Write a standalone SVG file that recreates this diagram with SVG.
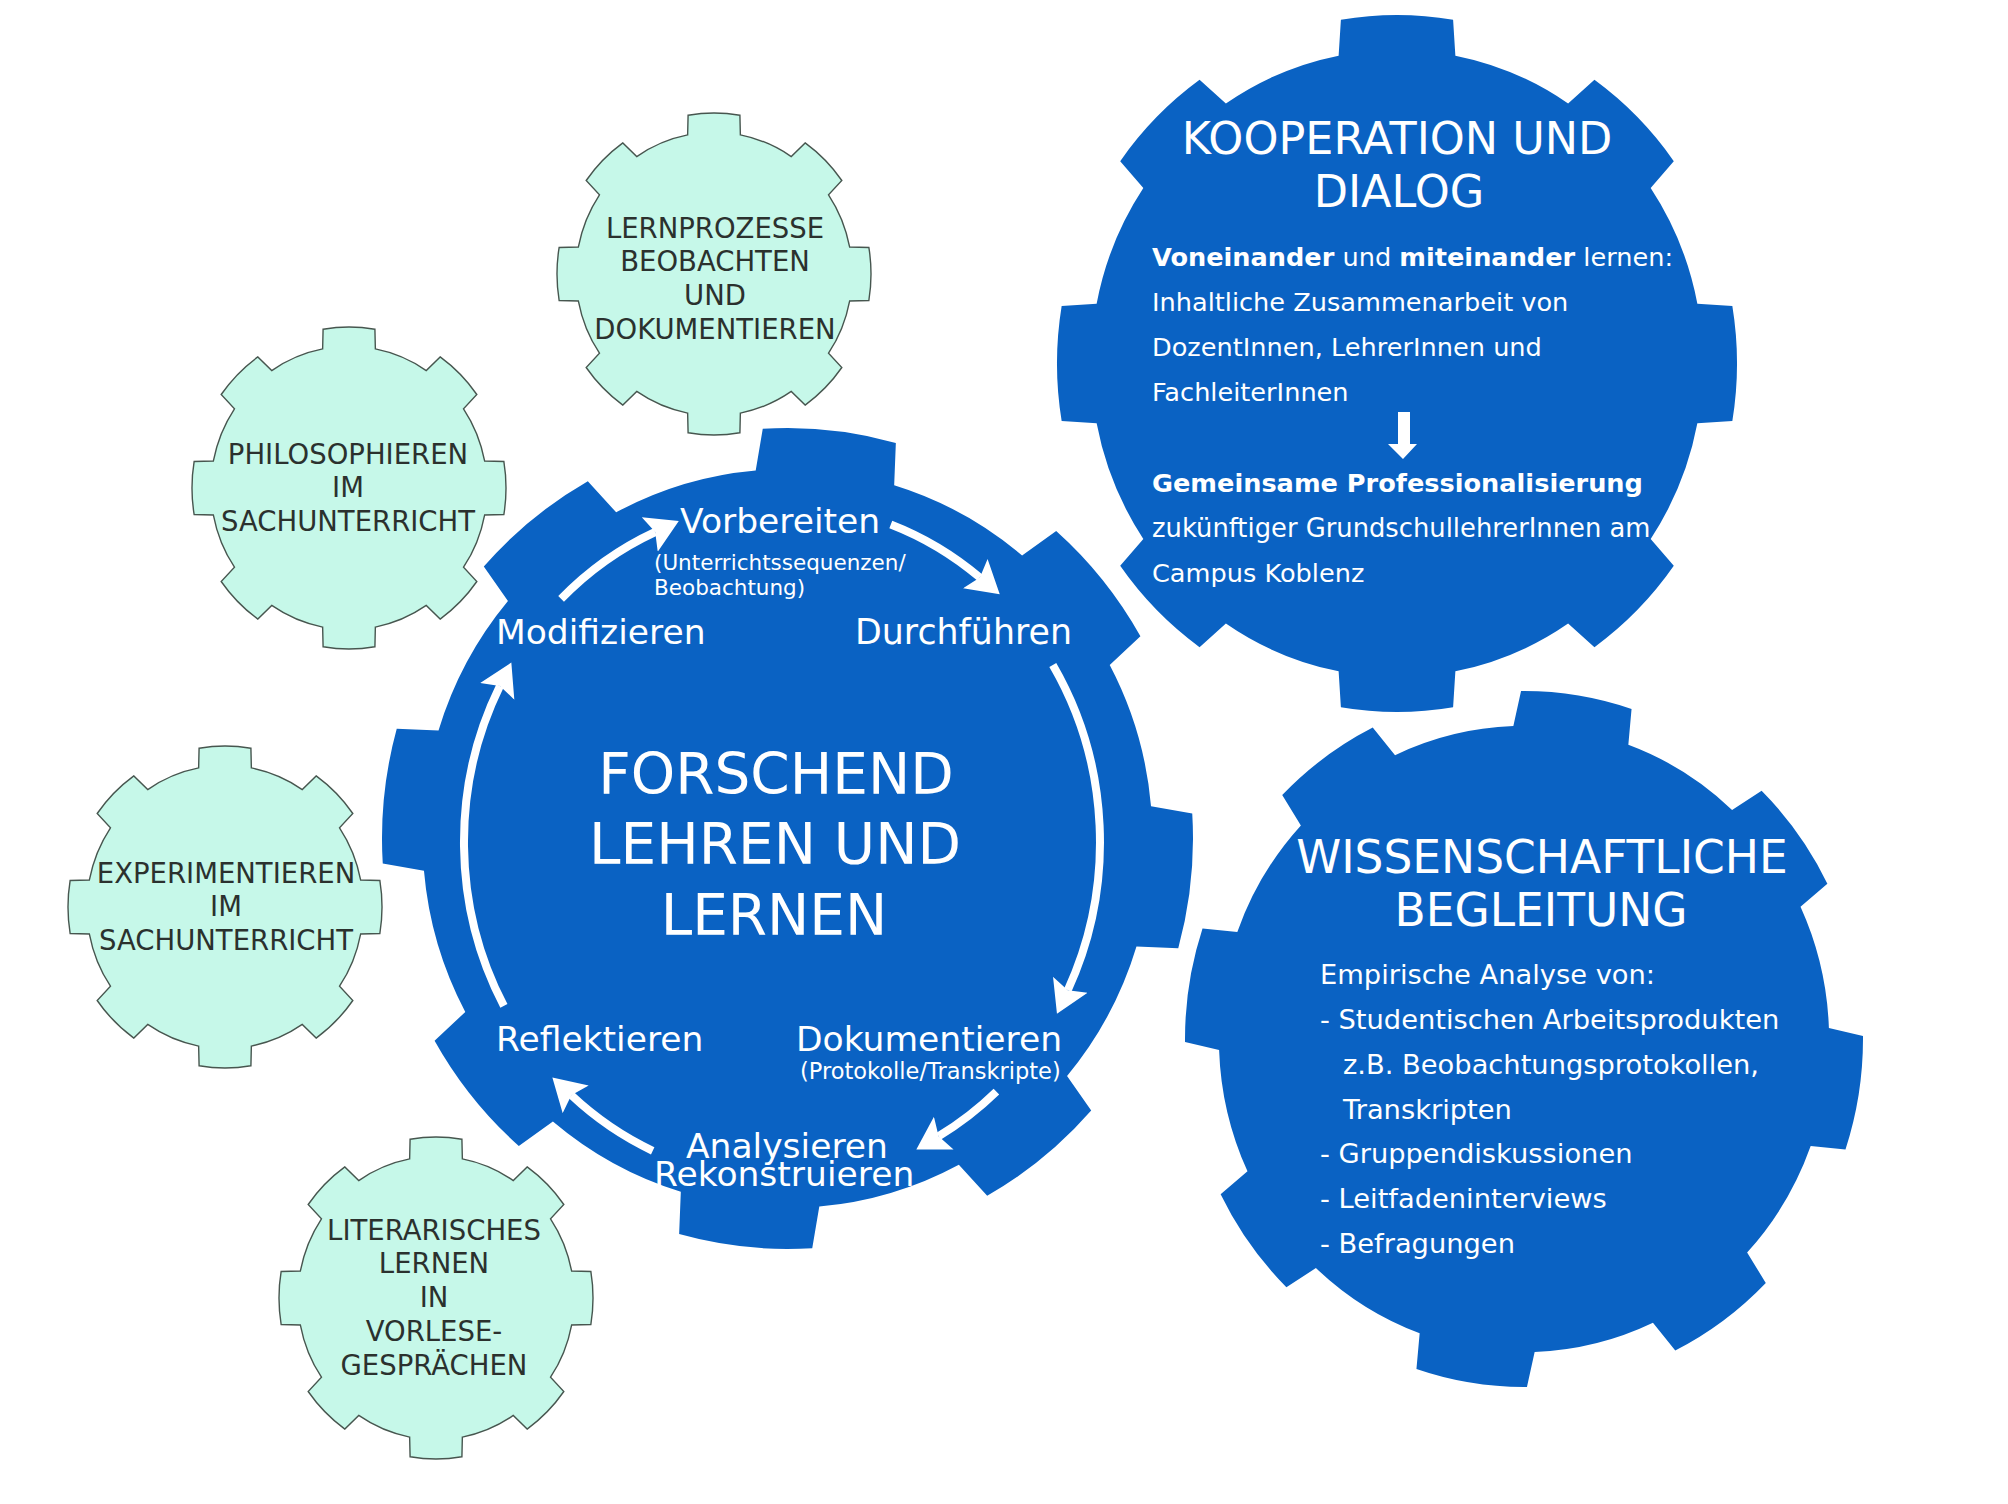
<svg xmlns="http://www.w3.org/2000/svg" xmlns:xlink="http://www.w3.org/1999/xlink" width="2008" height="1504" viewBox="0 0 2008 1504">
<style>
.blue{fill:#0a62c3}
.mint{fill:#c6f8e9;stroke:#47564f;stroke-width:1.4}
.w{fill:#fff;font-family:"DejaVu Sans",Verdana,sans-serif}
.d{fill:#2b312e;font-family:"DejaVu Sans",Verdana,sans-serif;font-size:27.5px;text-anchor:middle}
.arc{fill:none;stroke:#fff;stroke-width:8;marker-end:url(#ah)}
.c{text-anchor:middle}
.b{font-weight:bold}
</style>
<defs>
<path id="gb" d="M-17.17,-88.34 L-16.5,-98.63 A100,100 0 0 1 16.5,-98.63 L17.17,-88.34 A90,90 0 0 1 50.33,-74.61 L58.07,-81.41 A100,100 0 0 1 81.41,-58.07 L74.61,-50.33 A90,90 0 0 1 88.34,-17.17 L98.63,-16.5 A100,100 0 0 1 98.63,16.5 L88.34,17.17 A90,90 0 0 1 74.61,50.33 L81.41,58.07 A100,100 0 0 1 58.07,81.41 L50.33,74.61 A90,90 0 0 1 17.17,88.34 L16.5,98.63 A100,100 0 0 1 -16.5,98.63 L-17.17,88.34 A90,90 0 0 1 -50.33,74.61 L-58.07,81.41 A100,100 0 0 1 -81.41,58.07 L-74.61,50.33 A90,90 0 0 1 -88.34,17.17 L-98.63,16.5 A100,100 0 0 1 -98.63,-16.5 L-88.34,-17.17 A90,90 0 0 1 -74.61,-50.33 L-81.41,-58.07 A100,100 0 0 1 -58.07,-81.41 L-50.33,-74.61 A90,90 0 0 1 -17.17,-88.34 Z"/>
<path id="gm" vector-effect="non-scaling-stroke" d="M-16.79,-86.38 L-16.5,-98.63 A100,100 0 0 1 16.5,-98.63 L16.79,-86.38 A88,88 0 0 1 49.21,-72.95 L58.07,-81.41 A100,100 0 0 1 81.41,-58.07 L72.95,-49.21 A88,88 0 0 1 86.38,-16.79 L98.63,-16.5 A100,100 0 0 1 98.63,16.5 L86.38,16.79 A88,88 0 0 1 72.95,49.21 L81.41,58.07 A100,100 0 0 1 58.07,81.41 L49.21,72.95 A88,88 0 0 1 16.79,86.38 L16.5,98.63 A100,100 0 0 1 -16.5,98.63 L-16.79,86.38 A88,88 0 0 1 -49.21,72.95 L-58.07,81.41 A100,100 0 0 1 -81.41,58.07 L-72.95,49.21 A88,88 0 0 1 -86.38,16.79 L-98.63,16.5 A100,100 0 0 1 -98.63,-16.5 L-86.38,-16.79 A88,88 0 0 1 -72.95,-49.21 L-81.41,-58.07 A100,100 0 0 1 -58.07,-81.41 L-49.21,-72.95 A88,88 0 0 1 -16.79,-86.38 Z"/>
<marker id="ah" markerUnits="userSpaceOnUse" viewBox="0 0 40 40" markerWidth="40" markerHeight="40" refX="6" refY="20" orient="auto">
<path d="M0,1 L32,20 L0,39 L6,20 Z" fill="#fff"/>
</marker>
</defs>
<rect width="2008" height="1504" fill="#fff"/>

<g id="lernprozesse">
<use href="#gm" class="mint" transform="translate(714,274) scale(1.57,1.61)"/>
<text class="d" x="715" y="238">LERNPROZESSE</text>
<text class="d" x="715" y="271">BEOBACHTEN</text>
<text class="d" x="715" y="305">UND</text>
<text class="d" x="715" y="339">DOKUMENTIEREN</text>
</g>

<g id="philosophieren">
<use href="#gm" class="mint" transform="translate(349,488) scale(1.57,1.61)"/>
<text class="d" x="348" y="464">PHILOSOPHIEREN</text>
<text class="d" x="348" y="497">IM</text>
<text class="d" x="348" y="531">SACHUNTERRICHT</text>
</g>

<g id="experimentieren">
<use href="#gm" class="mint" transform="translate(225,907) scale(1.57,1.61)"/>
<text class="d" x="226" y="883">EXPERIMENTIEREN</text>
<text class="d" x="226" y="916">IM</text>
<text class="d" x="226" y="950">SACHUNTERRICHT</text>
</g>

<g id="literarisches">
<use href="#gm" class="mint" transform="translate(436,1298) scale(1.57,1.61)"/>
<text class="d" x="434" y="1240">LITERARISCHES</text>
<text class="d" x="434" y="1273">LERNEN</text>
<text class="d" x="434" y="1307">IN</text>
<text class="d" x="434" y="1341">VORLESE-</text>
<text class="d" x="434" y="1375">GESPRÄCHEN</text>
</g>

<g id="forschend">
<use href="#gb" class="blue" transform="translate(787.5,838.5) scale(4.055,4.105) rotate(6)"/>
<text class="w c" x="776" y="794" font-size="56.5">FORSCHEND</text>
<text class="w c" x="775" y="864" font-size="56.5">LEHREN UND</text>
<text class="w c" x="774" y="935" font-size="56.5">LERNEN</text>
<text class="w" x="680" y="533" font-size="34.5">Vorbereiten</text>
<text class="w" x="654" y="570" font-size="21.5">(Unterrichtssequenzen/</text>
<text class="w" x="654" y="595" font-size="21.5">Beobachtung)</text>
<text class="w" x="496" y="644" font-size="34.5">Modifizieren</text>
<text class="w" x="855" y="644" font-size="34.8">Durchführen</text>
<text class="w" x="496" y="1051" font-size="34.5">Reflektieren</text>
<text class="w" x="796" y="1051" font-size="34.5">Dokumentieren</text>
<text class="w" x="800" y="1079" font-size="22.5">(Protokolle/Transkripte)</text>
<text class="w" x="686" y="1158" font-size="34.5">Analysieren</text>
<text class="w" x="654" y="1186" font-size="34.5">Rekonstruieren</text>
</g>

<g id="kooperation">
<use href="#gb" class="blue" transform="translate(1397,363.5) scale(3.4,3.485)"/>
<text class="w c" x="1397" y="154" font-size="44.5">KOOPERATION UND</text>
<text class="w c" x="1399" y="207" font-size="44.5">DIALOG</text>
<text class="w" x="1152" y="266" font-size="25.6"><tspan class="b">Voneinander</tspan> und <tspan class="b">miteinander</tspan> lernen:</text>
<text class="w" x="1152" y="311" font-size="25.6">Inhaltliche Zusammenarbeit von</text>
<text class="w" x="1152" y="356" font-size="25.6">DozentInnen, LehrerInnen und</text>
<text class="w" x="1152" y="401" font-size="25.6">FachleiterInnen</text>
<text class="w b" x="1152" y="492" font-size="25.6">Gemeinsame Professionalisierung</text>
<text class="w" x="1152" y="537" font-size="25.8">zukünftiger GrundschullehrerInnen am</text>
<text class="w" x="1152" y="582" font-size="25.6">Campus Koblenz</text>
</g>

<g id="wissenschaftliche">
<use href="#gb" class="blue" transform="translate(1524,1039) scale(3.39,3.48) rotate(9)"/>
<text class="w c" x="1542" y="873" font-size="45.5">WISSENSCHAFTLICHE</text>
<text class="w c" x="1541" y="926" font-size="45.5">BEGLEITUNG</text>
<text class="w" x="1320" y="984" font-size="27.3">Empirische Analyse von:</text>
<text class="w" x="1320" y="1029" font-size="27.3">- Studentischen Arbeitsprodukten</text>
<text class="w" x="1343" y="1074" font-size="27.3">z.B. Beobachtungsprotokollen,</text>
<text class="w" x="1343" y="1119" font-size="27.3">Transkripten</text>
<text class="w" x="1320" y="1163" font-size="27.3">- Gruppendiskussionen</text>
<text class="w" x="1320" y="1208" font-size="27.3">- Leitfadeninterviews</text>
<text class="w" x="1320" y="1253" font-size="27.3">- Befragungen</text>
</g>

<g id="connectors">
<path class="arc" d="M561.1,598.9 A318,338 0 0 1 655.2,532.0"/>
<path class="arc" d="M890.8,524.4 A318,338 0 0 1 979.9,577.5"/>
<path class="arc" d="M1052.8,664.9 A318,338 0 0 1 1067.8,990.2"/>
<path class="arc" d="M996.4,1091.6 A318,338 0 0 1 938.6,1136.2"/>
<path class="arc" d="M652.7,1150.8 A318,338 0 0 1 571.3,1095.2"/>
<path class="arc" d="M503.9,1005.9 A318,338 0 0 1 499.9,685.9"/>
<path d="M1398,412 H1410 V444 H1417 L1403,459 L1388,444 H1398 Z" fill="#fff"/>
</g>
</svg>
